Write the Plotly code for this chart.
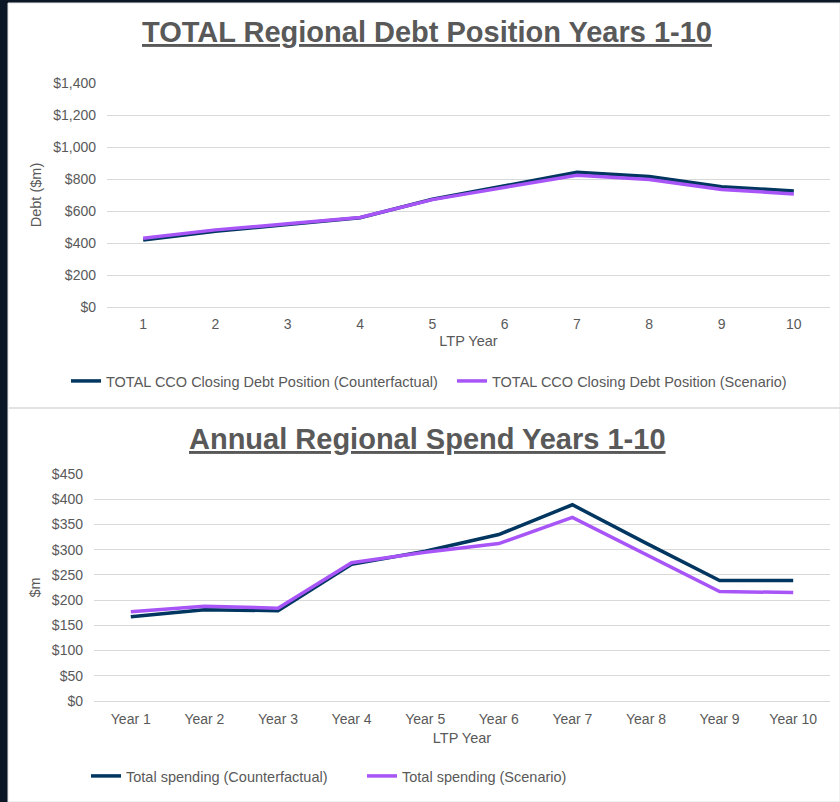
import plotly.graph_objects as go

# ---- data ----
debt_years = ["1", "2", "3", "4", "5", "6", "7", "8", "9", "10"]
debt_counterfactual = [418, 474, 515, 558, 673, 760, 842, 815, 752, 725]
debt_scenario = [430, 482, 520, 560, 671, 745, 824, 797, 734, 707]

spend_years = ["Year 1", "Year 2", "Year 3", "Year 4", "Year 5",
               "Year 6", "Year 7", "Year 8", "Year 9", "Year 10"]
spend_counterfactual = [167, 181, 179, 271, 297, 330, 389, 313, 239, 239]
spend_scenario = [177, 188, 184, 274, 295, 312, 364, 291, 217, 215]

debt_ticks = [0, 200, 400, 600, 800, 1000, 1200, 1400]
spend_ticks = [0, 50, 100, 150, 200, 250, 300, 350, 400, 450]

W, H = 840, 802
def px_x(v): return v / W
def px_y(v): return 1 - v / H

CF = "#003660"
SC = "#a855f7"
GREY = "#595959"
GRID = "#d9d9d9"
FONT = "Liberation Sans, Arial, sans-serif"

fig = go.Figure()
fig.add_trace(go.Scatter(x=debt_years, y=debt_counterfactual, mode="lines",
                         line=dict(color=CF, width=3.5),
                         name="TOTAL CCO Closing Debt Position (Counterfactual)",
                         xaxis="x", yaxis="y", legend="legend"))
fig.add_trace(go.Scatter(x=debt_years, y=debt_scenario, mode="lines",
                         line=dict(color=SC, width=3.5),
                         name="TOTAL CCO Closing Debt Position (Scenario)",
                         xaxis="x", yaxis="y", legend="legend"))
fig.add_trace(go.Scatter(x=spend_years, y=spend_counterfactual, mode="lines",
                         line=dict(color=CF, width=3.5),
                         name="Total spending (Counterfactual)",
                         xaxis="x2", yaxis="y2", legend="legend2"))
fig.add_trace(go.Scatter(x=spend_years, y=spend_scenario, mode="lines",
                         line=dict(color=SC, width=3.5),
                         name="Total spending (Scenario)",
                         xaxis="x2", yaxis="y2", legend="legend2"))

tickfont = dict(family=FONT, size=14, color=GREY)
axis_title_font = dict(family=FONT, size=14.5, color=GREY)
legend_font = dict(family=FONT, size=14.5, color=GREY)

fig.update_layout(
    width=W, height=H,
    margin=dict(l=0, r=0, t=0, b=0, autoexpand=False),
    paper_bgcolor="#0b1627",
    plot_bgcolor="rgba(0,0,0,0)",
    font=dict(family=FONT, color=GREY),
    xaxis=dict(domain=[px_x(107), px_x(830)], anchor="y", type="category",
               range=[-0.5, 9.5],
               showgrid=False, zeroline=False, showline=False, ticks="",
               tickfont=tickfont, ticklabelstandoff=7,
               title=dict(text="LTP Year", font=axis_title_font, standoff=4)),
    yaxis=dict(domain=[px_y(307), px_y(83)], anchor="x", range=[0, 1400],
               tickvals=debt_ticks,
               ticktext=["$" + f"{v:,}" for v in debt_ticks],
               showgrid=True, gridcolor=GRID, gridwidth=1,
               zeroline=True, zerolinecolor=GRID, zerolinewidth=1,
               showline=False, ticks="", tickfont=tickfont,
               ticklabelstandoff=10,
               title=dict(text="Debt ($m)", font=axis_title_font, standoff=8)),
    xaxis2=dict(domain=[px_x(94), px_x(830)], anchor="y2", type="category",
                range=[-0.5, 9.5],
                showgrid=False, zeroline=False, showline=False, ticks="",
                tickfont=tickfont, ticklabelstandoff=8,
                title=dict(text="LTP Year", font=axis_title_font, standoff=6)),
    yaxis2=dict(domain=[px_y(701), px_y(474)], anchor="x2", range=[0, 450],
                tickvals=spend_ticks,
                ticktext=["$" + str(v) for v in spend_ticks],
                showgrid=True, gridcolor=GRID, gridwidth=1,
                zeroline=True, zerolinecolor=GRID, zerolinewidth=1,
                showline=False, ticks="", tickfont=tickfont,
                ticklabelstandoff=10,
                title=dict(text="$m", font=axis_title_font, standoff=7)),
    legend=dict(orientation="h", x=px_x(66), y=px_y(381), xanchor="left",
                yanchor="middle", bgcolor="rgba(0,0,0,0)",
                entrywidth=341, entrywidthmode="pixels",
                font=legend_font),
    legend2=dict(orientation="h", x=px_x(86), y=px_y(776), xanchor="left",
                 yanchor="middle", bgcolor="rgba(0,0,0,0)",
                 entrywidth=231, entrywidthmode="pixels",
                 font=legend_font),
    showlegend=True,
    shapes=[
        dict(type="rect", xref="paper", yref="paper",
             x0=px_x(8), x1=1.0, y0=0, y1=px_y(3),
             fillcolor="white", line=dict(color="#e3e3e3", width=1),
             layer="below"),
        dict(type="line", xref="paper", yref="paper",
             x0=px_x(9), x1=1.0, y0=px_y(408), y1=px_y(408),
             line=dict(color=GRID, width=1.5), layer="below"),
    ],
    annotations=[
        dict(text="<b><u>TOTAL Regional Debt Position Years 1-10</u></b>",
             xref="paper", yref="paper", x=px_x(427), y=px_y(32),
             xanchor="center", yanchor="middle", showarrow=False,
             font=dict(family=FONT, size=29, color=GREY)),
        dict(text="<b><u>Annual Regional Spend Years 1-10</u></b>",
             xref="paper", yref="paper", x=px_x(427), y=px_y(439),
             xanchor="center", yanchor="middle", showarrow=False,
             font=dict(family=FONT, size=29, color=GREY)),
    ],
)

fig.write_html("out.html",
               config={"displayModeBar": False},
               post_script="document.body.style.margin='0px';")
